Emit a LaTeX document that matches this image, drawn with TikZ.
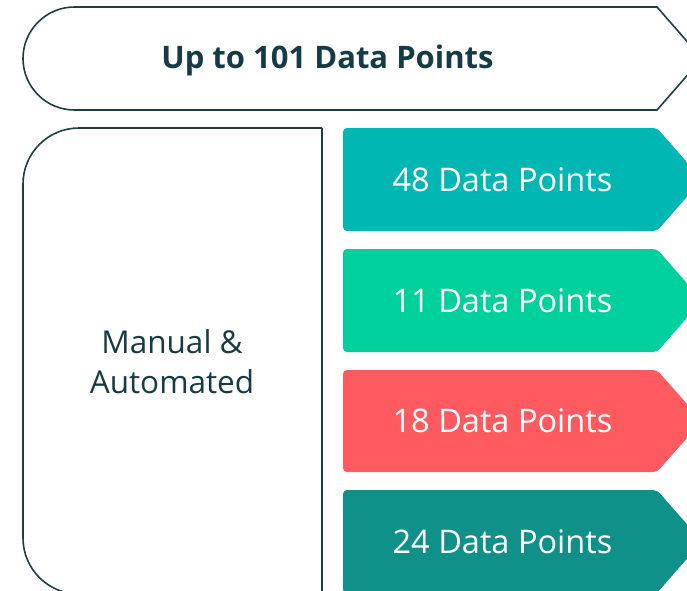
\documentclass[tikz,border=0pt]{standalone}
\usepackage{fontspec}
\setmainfont{Open Sans}
\usepackage{xcolor}
\usetikzlibrary{positioning,calc}

\definecolor{inkline}{HTML}{1E3D47}
\definecolor{inktext}{HTML}{173B45}
\definecolor{ptsA}{HTML}{00B7B3}
\definecolor{ptsB}{HTML}{00D09C}
\definecolor{ptsC}{HTML}{FF5A5F}
\definecolor{ptsD}{HTML}{0F918A}

\tikzset{
  outline/.style={draw=inkline, line width=1.6pt},
  lbl/.style={font=\fontsize{31.5}{40}\selectfont, inner sep=0pt},
  ptslbl/.style={lbl, font=\fontsize{32.5}{40}\selectfont, text=white},
}

\begin{document}
\begin{tikzpicture}[x=1pt,y=-1pt]
	\def\Lx{23}
	\def\Bx{657}
	\def\Tip{702}
	\def\Cx{343}
	\def\Mx{322}
	
	\useasboundingbox (0,0) rectangle (687,590);
	\clip (0,0) rectangle (687,590);
	
	% banner
	\draw[outline] (74.5,7) -- (\Bx,7) -- (\Tip,58.5) -- (\Bx,110) -- (74.5,110)
		arc[start angle=90, end angle=270, radius=51.5] -- cycle;
	\node[lbl, font=\fontsize{31}{40}\selectfont\bfseries, text=inktext] (title) at (327.5,60) {Up to 101 Data Points};
	
	% left column
	\draw[outline, rounded corners=56pt] (\Mx,128) -- (\Lx,128) -- (\Lx,594) -- (\Mx,594);
	\draw[outline] (\Mx,128) -- (\Mx,600);
	\node[lbl, text=inktext, align=center] (manual) at (172,362) {Manual \&\\Automated};
	
	% data point boxes
	\foreach \i/\top/\bot/\col/\txt in {1/128/231/ptsA/48, 2/249/352/ptsB/11, 3/370/472/ptsC/18, 4/490/593/ptsD/24}{
		\fill[\col, rounded corners=4pt] (\Cx,\top) -- (\Bx,\top) -- (\Tip,{(\top+\bot)/2}) -- (\Bx,\bot) -- (\Cx,\bot) -- cycle;
		\node[ptslbl] (pts\i) at (502.5,{(\top+\bot)/2}) {\txt{} Data Points};
	}
\end{tikzpicture}
\end{document}
